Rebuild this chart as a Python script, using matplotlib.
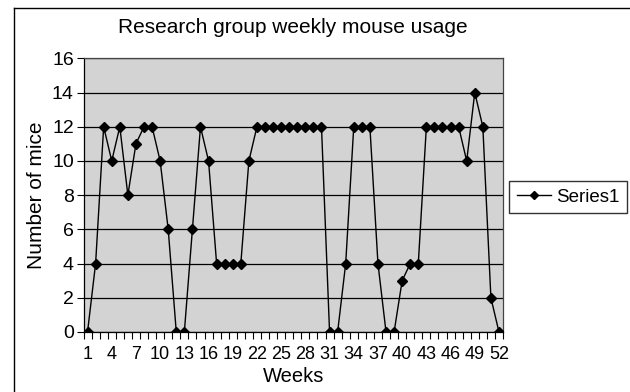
import matplotlib
matplotlib.use("Agg")
import matplotlib.pyplot as plt
from matplotlib.lines import Line2D

plt.rcParams['font.family'] = ['Liberation Sans', 'DejaVu Sans']

# weekly mouse usage, weeks 1..52
weeks = list(range(1, 53))
mice = [0, 4, 12, 10, 12, 8, 11, 12, 12, 10,
        6, 0, 0, 6, 12, 10, 4, 4, 4, 4,
        10, 12, 12, 12, 12, 12, 12, 12, 12, 12,
        0, 0, 4, 12, 12, 12, 4, 0, 0, 3,
        4, 4, 12, 12, 12, 12, 12, 10, 14, 12,
        2, 0]
tick_weeks = list(range(1, 53, 3))
yticks = list(range(0, 17, 2))

fig = plt.figure(figsize=(6.3, 3.92), dpi=100)
ax = fig.add_axes([83.5/630, 1 - 332/392, (503 - 83.5)/630, (332 - 58.3)/392])
ax.set_facecolor('#d3d3d3')

# outer chart border (right/bottom fall off the picture)
fig.add_artist(Line2D([14/630, 14/630], [0, 1 - 8/392], transform=fig.transFigure,
                      color='black', lw=1.0))
fig.add_artist(Line2D([14/630, 1], [1 - 8/392, 1 - 8/392], transform=fig.transFigure,
                      color='black', lw=1.0))

ax.plot(weeks, mice, color='black', lw=1.0, marker='D', ms=5.5,
        mfc='black', mec='black', label='Series1', zorder=3)

ax.set_xlim(0.5, 52.5)
ax.set_ylim(0, 16)
ax.set_yticks(yticks)
ax.yaxis.grid(True, color='black', lw=0.9)
ax.set_axisbelow(True)

ax.set_xticks(tick_weeks)
ax.set_xticks([w + 0.5 for w in range(0, 53)], minor=True)
ax.tick_params(axis='x', which='major', length=0, labelsize=13, pad=10)
ax.tick_params(axis='x', which='minor', length=5, width=0.8, direction='out')
ax.tick_params(axis='y', length=5, width=0.8, labelsize=14, pad=2)

for s in ax.spines.values():
    s.set_color('#444444')
    s.set_linewidth(0.9)
ax.spines['left'].set_color('black')
ax.spines['bottom'].set_color('black')

ax.set_title('Research group weekly mouse usage', fontsize=15, pad=18)
ax.set_xlabel('Weeks', fontsize=14.5, labelpad=3)
ax.set_ylabel('Number of mice', fontsize=15, labelpad=4)

leg = ax.legend(loc='center left', bbox_to_anchor=(1.015, 0.493), fontsize=13.5,
                frameon=True, fancybox=False, edgecolor='black', borderpad=0.4,
                handlelength=1.8, handletextpad=0.3, borderaxespad=0)
leg.get_frame().set_linewidth(1.0)
for h in leg.legend_handles:
    h.set_markersize(4)

fig.savefig('out.png', dpi=100)
